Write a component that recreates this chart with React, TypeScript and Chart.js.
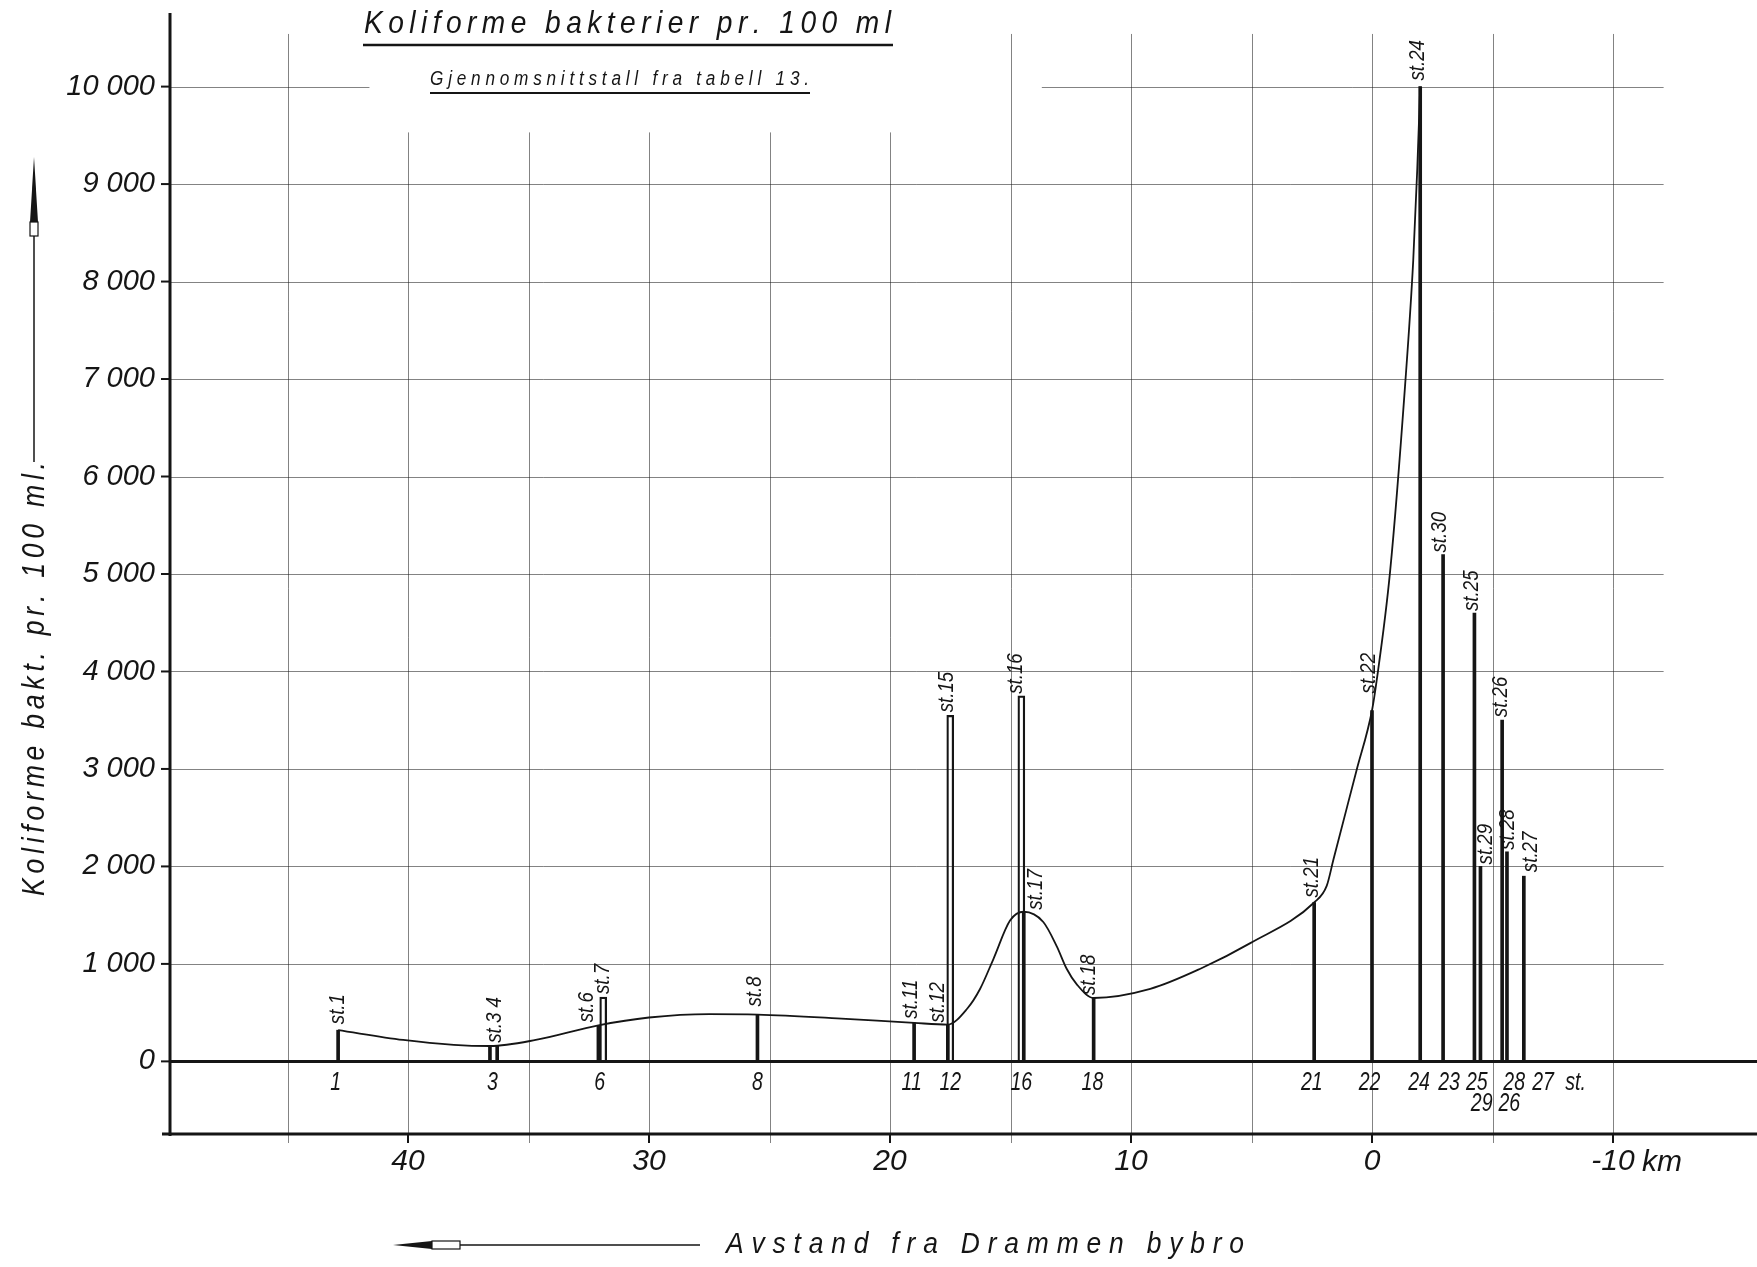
import React, { useEffect, useRef } from 'react';
import { Chart, registerables } from 'chart.js';

Chart.register(...registerables);

// ---- data -------------------------------------------------------------
// Sampling stations: distance from Drammen bybro (km, negative = seaward)
// and mean number of coliform bacteria per 100 ml.
const stationNames = ['st.1', 'st.3', 'st.4', 'st.6', 'st.7', 'st.8', 'st.11', 'st.12', 'st.15', 'st.16', 'st.17', 'st.18', 'st.21', 'st.22', 'st.24', 'st.30', 'st.25', 'st.29', 'st.26', 'st.28', 'st.27'];
const stationKm = [42.9, 36.6, 36.3, 32.1, 31.9, 25.5, 19.0, 17.6, 17.5, 14.55, 14.45, 11.55, 2.4, 0.0, -2.0, -2.95, -4.25, -4.5, -5.4, -5.6, -6.3];
const stationCounts = [320, 160, 160, 370, 660, 480, 395, 378, 3550, 3750, 1535, 650, 1630, 3600, 10000, 5200, 4600, 2000, 3500, 2150, 1900];
// Caption written above each station line ('' = shares the neighbour's caption)
const stationCaptions = ['st.1', 'st.3 4', '', 'st.6', 'st.7', 'st.8', 'st.11', 'st.12', 'st.15', 'st.16', 'st.17', 'st.18', 'st.21', 'st.22', 'st.24', 'st.30', 'st.25', 'st.29', 'st.26', 'st.28', 'st.27'];

// Smoothed profile along the river
const profileKm = [42.9, 40.2, 38.1, 36.6, 34.7, 32.1, 30.0, 27.5, 25.5, 22.2, 19.0, 17.6, 16.8, 16.27, 15.71, 15.02, 14.45, 13.64, 13.08, 12.67, 12.25, 11.55, 9.2, 7.1, 5.05, 2.4, 1.88, 1.6, 0.64, 0.0, -0.19, -0.75, -1.37, -1.71, -1.88, -2.0];
const profileCounts = [320, 220, 170, 158, 220, 370, 450, 485, 480, 442, 395, 378, 540, 740, 1050, 1445, 1535, 1430, 1180, 950, 790, 650, 744, 953, 1213, 1630, 1800, 2070, 2987, 3600, 3900, 5024, 6925, 8214, 9165, 10000];

// Station numbers written under the zero line
const numberLabels = ['1', '3', '6', '8', '11', '12', '16', '18', '21', '22', '24', '23', '25', '28', '27', 'st.'];
const numberKm = [43.0, 36.5, 32.05, 25.5, 19.1, 17.5, 14.55, 11.6, 2.5, 0.1, -1.95, -3.2, -4.35, -5.9, -7.1, -8.45];
const numberLabelsLower = ['29', '26'];
const numberKmLower = [-4.55, -5.7];

const countTicks = [0, 1000, 2000, 3000, 4000, 5000, 6000, 7000, 8000, 9000, 10000];
const kmTicks = [40, 30, 20, 10, 0, -10];

// ---- styling ----------------------------------------------------------
const INK = '#151515';
const GRID = 'rgba(30,30,30,0.55)';
const LETTER = '"Liberation Sans", "DejaVu Sans", sans-serif';
const PLAIN = '"Liberation Sans", "DejaVu Sans", sans-serif';
const OUTLINED = new Set(['st.7', 'st.15', 'st.16']);

// caption offsets: [dx, gap above the line top]
const CAPTION_NUDGE: Record<string, [number, number]> = {
  'st.1': [0, 6], 'st.3 4': [5, 3], 'st.6': [-12, 3], 'st.7': [0, 3], 'st.8': [-3, 8],
  'st.11': [-3, 4], 'st.12': [-10, 2], 'st.15': [-3, 3], 'st.16': [-5, 2], 'st.17': [12, 2],
  'st.18': [-5, 3], 'st.21': [-2, 5], 'st.22': [-3, 17], 'st.24': [-2, 6], 'st.30': [-3, 2],
  'st.25': [-3, 2], 'st.29': [5, 2], 'st.26': [-1, 3], 'st.28': [1, 2], 'st.27': [7, 4],
};

const thousands = (v: number) => String(v).replace(/\B(?=(\d{3})+(?!\d))/g, ' ');

// narrow lettering: each glyph squeezed horizontally, then spread to fill the width
function letterText(ctx: CanvasRenderingContext2D, text: string, x: number, y: number, width: number, squeeze = 0.82) {
  const chars = Array.from(text);
  const widths = chars.map((c) => ctx.measureText(c).width * squeeze);
  const total = widths.reduce((a, b) => a + b, 0);
  const gap = chars.length > 1 ? (width - total) / (chars.length - 1) : 0;
  let cx = x;
  chars.forEach((c, i) => {
    ctx.save();
    ctx.translate(cx, y);
    ctx.scale(squeeze, 1);
    ctx.fillText(c, 0, 0);
    ctx.restore();
    cx += widths[i] + gap;
  });
}

// centred text squeezed horizontally
function narrowText(ctx: CanvasRenderingContext2D, text: string, x: number, y: number, squeeze = 0.8) {
  ctx.save();
  ctx.translate(x, y);
  ctx.scale(squeeze, 1);
  ctx.fillText(text, 0, 0);
  ctx.restore();
}

function line(ctx: CanvasRenderingContext2D, x1: number, y1: number, x2: number, y2: number) {
  ctx.beginPath();
  ctx.moveTo(x1, y1);
  ctx.lineTo(x2, y2);
  ctx.stroke();
}

const paperPlugin = {
  id: 'paper',
  beforeDraw(chart: any) {
    const { ctx, width, height } = chart;
    ctx.save();
    ctx.fillStyle = '#fff';
    ctx.fillRect(0, 0, width, height);
    ctx.restore();
  },
  beforeDatasetsDraw(chart: any) {
    const { ctx, chartArea: a, scales } = chart;
    const x = scales.x;
    const y = scales.y;
    ctx.save();
    ctx.strokeStyle = GRID;
    ctx.lineWidth = 1;
    const gridRight = x.getPixelForValue(-12.1);
    countTicks.forEach((v) => {
      if (v === 0) return;
      const py = Math.round(y.getPixelForValue(v)) + 0.5;
      if (v === 10000) {
        line(ctx, a.left, py, x.getPixelForValue(41.6), py);
        line(ctx, x.getPixelForValue(13.7), py, gridRight, py);
      } else {
        line(ctx, a.left, py, gridRight, py);
      }
    });
    for (let km = 45; km >= -10; km -= 5) {
      const px = Math.round(x.getPixelForValue(km)) + 0.5;
      const top = y.getPixelForValue(km <= 40 && km >= 20 ? 9530 : 10540);
      line(ctx, px, top, px, a.bottom + 9);
    }
    ctx.restore();
  },
  afterDatasetsDraw(chart: any) {
    const { ctx, chartArea: a, scales, width } = chart;
    const x = scales.x;
    const y = scales.y;
    ctx.save();
    ctx.strokeStyle = INK;
    ctx.fillStyle = INK;

    // axes
    ctx.lineWidth = 3;
    const y0 = y.getPixelForValue(0);
    line(ctx, a.left, y0, width, y0);
    line(ctx, a.left - 8, a.bottom, width, a.bottom);
    line(ctx, a.left, a.top, a.left, a.bottom + 2);
    ctx.lineWidth = 2;
    countTicks.forEach((v) => {
      const py = y.getPixelForValue(v);
      line(ctx, a.left - 9, py, a.left, py);
    });
    kmTicks.forEach((v) => {
      const px = x.getPixelForValue(v);
      line(ctx, px, a.bottom, px, a.bottom + 9);
    });

    // station captions
    ctx.font = `italic 22px ${LETTER}`;
    ctx.textAlign = 'left';
    ctx.textBaseline = 'middle';
    stationCaptions.forEach((cap, i) => {
      if (!cap) return;
      const [dx, gap] = CAPTION_NUDGE[cap] || [-2, 4];
      const px = x.getPixelForValue(stationKm[i]) + dx;
      const py = y.getPixelForValue(stationCounts[i]) - gap;
      ctx.save();
      ctx.translate(px, py);
      ctx.rotate(-Math.PI / 2);
      ctx.scale(0.85, 1);
      ctx.fillText(cap, 0, 0);
      ctx.restore();
    });

    // station numbers
    ctx.font = `italic 25px ${LETTER}`;
    ctx.textAlign = 'center';
    ctx.textBaseline = 'middle';
    numberLabels.forEach((t, i) => narrowText(ctx, t, x.getPixelForValue(numberKm[i]), y0 + 22, 0.78));
    numberLabelsLower.forEach((t, i) => narrowText(ctx, t, x.getPixelForValue(numberKmLower[i]), y0 + 43, 0.78));

    // unit after the last distance tick
    ctx.font = `italic 30px ${PLAIN}`;
    ctx.textAlign = 'left';
    ctx.textBaseline = 'alphabetic';
    ctx.fillText('km', x.getPixelForValue(-10) + 29, a.bottom + 37);

    // title and subtitle
    ctx.textAlign = 'left';
    ctx.font = `italic 32px ${LETTER}`;
    letterText(ctx, 'Koliforme bakterier pr. 100 ml', 364, 33, 527, 0.88);
    ctx.lineWidth = 2.5;
    line(ctx, 363, 45, 893, 45);
    ctx.font = `italic 20px ${LETTER}`;
    letterText(ctx, 'Gjennomsnittstall fra tabell 13.', 430, 85, 379, 0.86);
    ctx.lineWidth = 2;
    line(ctx, 430, 93, 810, 93);

    // vertical axis title with arrow
    ctx.save();
    ctx.translate(44, 896);
    ctx.rotate(-Math.PI / 2);
    ctx.font = `italic 31px ${LETTER}`;
    letterText(ctx, 'Koliforme bakt. pr. 100 ml.', 0, 0, 434, 0.86);
    ctx.restore();
    ctx.lineWidth = 1.5;
    line(ctx, 34, 462, 34, 236);
    ctx.beginPath();
    ctx.moveTo(34, 157);
    ctx.lineTo(38, 222);
    ctx.lineTo(30, 222);
    ctx.closePath();
    ctx.fill();
    ctx.lineWidth = 1.2;
    ctx.strokeRect(30, 222, 8, 14);

    // horizontal axis title with arrow
    ctx.font = `italic 30px ${LETTER}`;
    letterText(ctx, 'Avstand fra Drammen bybro', 726, 1253, 518, 0.88);
    ctx.lineWidth = 1.5;
    line(ctx, 460, 1245, 700, 1245);
    ctx.beginPath();
    ctx.moveTo(393, 1245);
    ctx.lineTo(432, 1241);
    ctx.lineTo(432, 1249);
    ctx.closePath();
    ctx.fill();
    ctx.lineWidth = 1.2;
    ctx.strokeRect(432, 1241, 28, 8);

    ctx.restore();
  },
};

const noScalePadding = (s: any) => {
  s.paddingTop = 0;
  s.paddingBottom = 0;
  s.paddingLeft = 0;
  s.paddingRight = 0;
};

export default function App() {
  const ref = useRef<HTMLCanvasElement>(null);

  useEffect(() => {
    const canvas = ref.current;
    if (!canvas) return;

    const solid = stationKm.map((km, i) => ({ x: km, y: OUTLINED.has(stationNames[i]) ? null : stationCounts[i] }));
    const hollow = stationKm.map((km, i) => ({ x: km, y: OUTLINED.has(stationNames[i]) ? stationCounts[i] : null }));
    const profile = profileKm.map((km, i) => ({ x: km, y: profileCounts[i] }));

    const chart = new Chart(canvas, {
      type: 'bar',
      data: {
        datasets: [
          {
            type: 'line',
            label: 'Koliforme bakterier',
            data: profile,
            borderColor: INK,
            borderWidth: 1.8,
            pointRadius: 0,
            cubicInterpolationMode: 'monotone',
            fill: false,
            order: 0,
          } as any,
          {
            type: 'bar',
            label: 'Stasjoner',
            data: solid,
            backgroundColor: INK,
            barThickness: 3,
            skipNull: true,
            order: 1,
          } as any,
          {
            type: 'bar',
            label: 'Stasjoner (dobbel)',
            data: hollow,
            backgroundColor: 'rgba(0,0,0,0)',
            borderColor: INK,
            borderWidth: 1.6,
            barThickness: 7,
            skipNull: true,
            order: 1,
          } as any,
        ],
      },
      options: {
        responsive: false,
        animation: false,
        devicePixelRatio: 1,
        layout: { padding: { top: 13, left: 0, right: 0, bottom: 0 } },
        plugins: {
          legend: { display: false },
          tooltip: { enabled: false },
          title: { display: false },
        },
        scales: {
          x: {
            type: 'linear',
            reverse: true,
            min: -15.975,
            max: 49.876,
            offset: false,
            grid: { display: false, drawTicks: false, offset: false },
            border: { display: false },
            afterBuildTicks: (s: any) => {
              s.ticks = kmTicks.map((v) => ({ value: v }));
            },
            afterFit: (s: any) => {
              s.height = 133;
              noScalePadding(s);
            },
            ticks: {
              padding: 10,
              maxRotation: 0,
              autoSkip: false,
              color: INK,
              font: { family: PLAIN, size: 30, style: 'italic' },
              callback: (v: any) => String(v),
            },
          },
          y: {
            type: 'linear',
            min: -745,
            max: 10755,
            grid: { display: false, drawTicks: false },
            border: { display: false },
            afterBuildTicks: (s: any) => {
              s.ticks = countTicks.map((v) => ({ value: v }));
            },
            afterFit: (s: any) => {
              s.width = 170;
              noScalePadding(s);
            },
            ticks: {
              padding: 15,
              color: INK,
              font: { family: PLAIN, size: 29, style: 'italic' },
              callback: (v: any) => thousands(Number(v)),
            },
          },
        },
      } as any,
      plugins: [paperPlugin],
    });

    return () => chart.destroy();
  }, []);

  return (
    <div style={{ position: 'fixed', left: 0, top: 0, width: 1757, height: 1267, background: '#fff' }}>
      <canvas ref={ref} width={1757} height={1267} style={{ display: 'block', width: 1757, height: 1267 }} />
    </div>
  );
}
